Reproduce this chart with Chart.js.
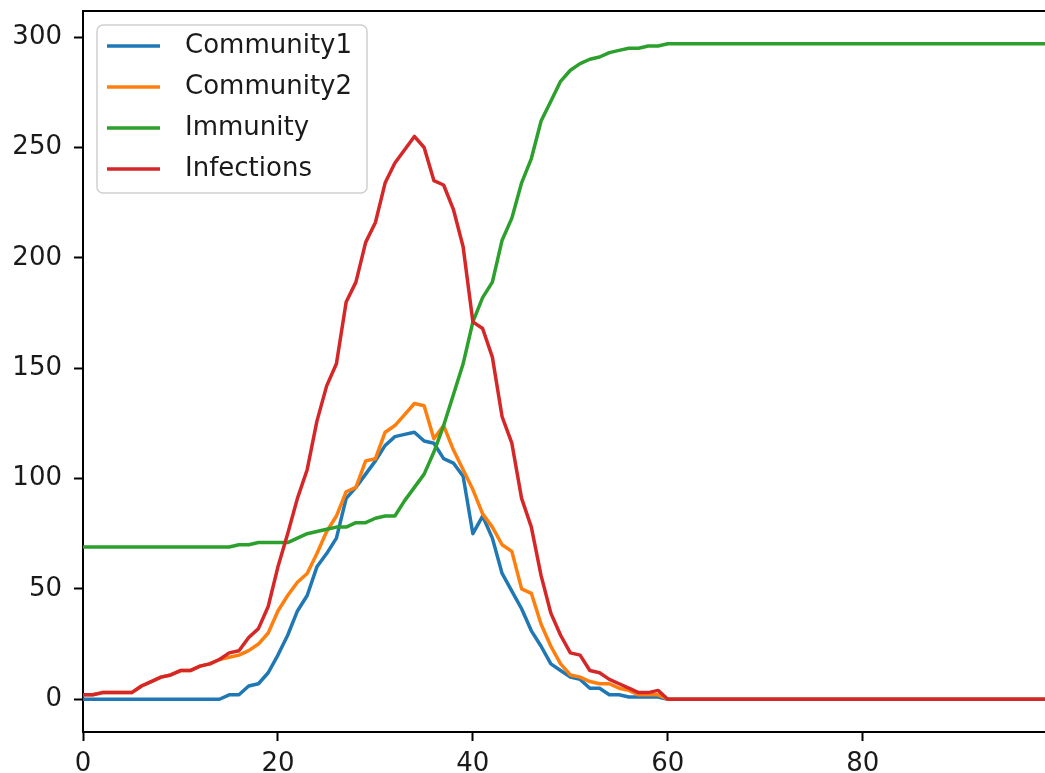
<!DOCTYPE html>
<html>
<head>
<meta charset="utf-8">
<script src="https://cdn.jsdelivr.net/npm/chart.js@4.4.1/dist/chart.umd.min.js"></script>
<style>
  body { margin: 0; background: #fff; }
  #wrap { width: 1045px; height: 773px; }
</style>
</head>
<body>
<div id="wrap"><canvas id="myChart" width="1045" height="773"></canvas></div>
<script>
// values, one per day (0..99)
const community1 = [
  0, 0, 0, 0, 0, 0, 0, 0, 0, 0,
  0, 0, 0, 0, 0, 2, 2, 6, 7, 12,
  20, 29, 40, 47, 60, 66, 73, 91, 96, 102,
  108, 115, 119, 120, 121, 117, 116, 109, 107, 101,
  75, 83, 73, 57, 49, 41, 31, 24, 16, 13,
  10, 9, 5, 5, 2, 2, 1, 1, 1, 1,
  0, 0, 0, 0, 0, 0, 0, 0, 0, 0,
  0, 0, 0, 0, 0, 0, 0, 0, 0, 0,
  0, 0, 0, 0, 0, 0, 0, 0, 0, 0,
  0, 0, 0, 0, 0, 0, 0, 0, 0, 0
];
const community2 = [
  2, 2, 3, 3, 3, 3, 6, 8, 10, 11,
  13, 13, 15, 16, 18, 19, 20, 22, 25, 30,
  40, 47, 53, 57, 66, 76, 83, 94, 96, 108,
  109, 121, 124, 129, 134, 133, 118, 124, 113, 104,
  95, 84, 78, 70, 67, 50, 48, 34, 24, 16,
  11, 10, 8, 7, 7, 5, 4, 2, 2, 2,
  0, 0, 0, 0, 0, 0, 0, 0, 0, 0,
  0, 0, 0, 0, 0, 0, 0, 0, 0, 0,
  0, 0, 0, 0, 0, 0, 0, 0, 0, 0,
  0, 0, 0, 0, 0, 0, 0, 0, 0, 0
];
const immunity = [
  69, 69, 69, 69, 69, 69, 69, 69, 69, 69,
  69, 69, 69, 69, 69, 69, 70, 70, 71, 71,
  71, 71, 73, 75, 76, 77, 78, 78, 80, 80,
  82, 83, 83, 90, 96, 102, 112, 124, 138, 152,
  171, 182, 189, 208, 218, 234, 245, 262, 271, 280,
  285, 288, 290, 291, 293, 294, 295, 295, 296, 296,
  297, 297, 297, 297, 297, 297, 297, 297, 297, 297,
  297, 297, 297, 297, 297, 297, 297, 297, 297, 297,
  297, 297, 297, 297, 297, 297, 297, 297, 297, 297,
  297, 297, 297, 297, 297, 297, 297, 297, 297, 297
];
const infections = [
  2, 2, 3, 3, 3, 3, 6, 8, 10, 11,
  13, 13, 15, 16, 18, 21, 22, 28, 32, 42,
  60, 75, 91, 104, 126, 142, 152, 180, 189, 207,
  216, 234, 243, 249, 255, 250, 235, 233, 222, 205,
  171, 168, 155, 128, 116, 91, 78, 56, 39, 29,
  21, 20, 13, 12, 9, 7, 5, 3, 3, 4,
  0, 0, 0, 0, 0, 0, 0, 0, 0, 0,
  0, 0, 0, 0, 0, 0, 0, 0, 0, 0,
  0, 0, 0, 0, 0, 0, 0, 0, 0, 0,
  0, 0, 0, 0, 0, 0, 0, 0, 0, 0
];
const seriesNames = ['Community1', 'Community2', 'Immunity', 'Infections'];
const xTicks = [0, 20, 40, 60, 80];
const yTicks = [0, 50, 100, 150, 200, 250, 300];

const colors = ['#1f77b4', '#ff7f0e', '#2ca02c', '#d62728'];
const tickFont = { family: 'DejaVu Sans', size: 26 };

function toPoints(arr) {
  return arr.map((v, i) => ({ x: i, y: v }));
}

// top spine (the right one is cropped off in the original) and the legend box
const frameAndLegend = {
  id: 'frameAndLegend',
  afterDraw(chart) {
    const ctx = chart.ctx;
    const a = chart.chartArea;
    ctx.save();
    ctx.strokeStyle = '#000';
    ctx.lineWidth = 2;
    ctx.beginPath();
    ctx.moveTo(a.left, a.top);
    ctx.lineTo(a.right, a.top);
    ctx.stroke();

    const bx = a.left + 14, by = a.top + 14, bw = 270, bh = 168;
    ctx.beginPath();
    ctx.roundRect(bx, by, bw, bh, 6);
    ctx.fillStyle = 'rgba(255,255,255,0.85)';
    ctx.fill();
    ctx.strokeStyle = '#d0d0d0';
    ctx.lineWidth = 1.5;
    ctx.stroke();

    ctx.font = '26px "DejaVu Sans"';
    ctx.textBaseline = 'middle';
    ctx.textAlign = 'left';
    chart.data.datasets.forEach((ds, k) => {
      const ry = by + 21 + k * 41;
      ctx.strokeStyle = ds.borderColor;
      ctx.lineWidth = 3.5;
      ctx.beginPath();
      ctx.moveTo(bx + 10, ry);
      ctx.lineTo(bx + 63, ry);
      ctx.stroke();
      ctx.fillStyle = '#1a1a1a';
      ctx.fillText(ds.label, bx + 88, ry);
    });
    ctx.restore();
  }
};

const allSeries = [community1, community2, immunity, infections];

new Chart('myChart', {
  type: 'line',
  data: {
    datasets: allSeries.map((arr, k) => ({
      label: seriesNames[k],
      data: toPoints(arr),
      borderColor: colors[k],
      backgroundColor: colors[k],
      borderWidth: 3.5,
      pointRadius: 0,
      tension: 0,
      borderJoinStyle: 'round',
      order: 4 - k
    }))
  },
  options: {
    responsive: false,
    animation: false,
    layout: { padding: { left: 0, top: 11, right: 0, bottom: 0 } },
    plugins: {
      legend: { display: false },
      tooltip: { enabled: false }
    },
    scales: {
      x: {
        type: 'linear',
        min: 0,
        max: 98.7,
        afterBuildTicks: s => { s.ticks = xTicks.map(v => ({ value: v })); },
        afterFit: s => { s.height = 41; s.paddingLeft = 0; s.paddingRight = 0; },
        grid: { drawOnChartArea: false, tickLength: 9, tickWidth: 2, tickColor: '#000' },
        border: { color: '#000', width: 2 },
        ticks: { font: tickFont, color: '#1a1a1a', padding: 8, maxRotation: 0 }
      },
      y: {
        type: 'linear',
        min: -14.85,
        max: 311.85,
        afterBuildTicks: s => { s.ticks = yTicks.map(v => ({ value: v })); },
        afterFit: s => { s.width = 83; s.paddingTop = 0; s.paddingBottom = 0; },
        grid: { drawOnChartArea: false, tickLength: 9, tickWidth: 2, tickColor: '#000' },
        border: { color: '#000', width: 2 },
        ticks: { font: tickFont, color: '#1a1a1a', padding: 12 }
      }
    }
  },
  plugins: [frameAndLegend]
});
</script>
</body>
</html>
